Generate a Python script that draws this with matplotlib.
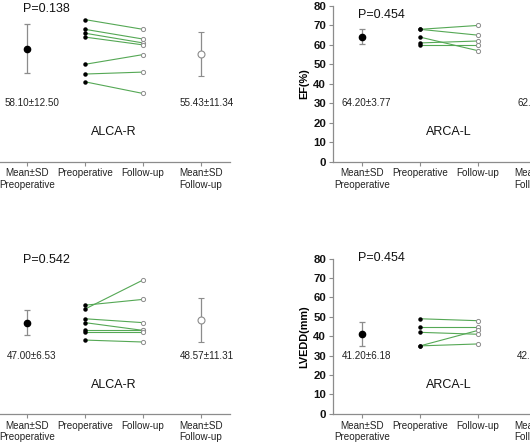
import matplotlib
matplotlib.use("Agg")
import matplotlib.pyplot as plt
import numpy as np

plt.rcParams['font.family'] = ['Liberation Sans', 'DejaVu Sans']

# ---- data ----
xcats = ["Mean±SD\nPreoperative", "Preoperative", "Follow-up", "Mean±SD\nFollow-up"]
yticks = [0, 10, 20, 30, 40, 50, 60, 70, 80]

# EF, ALCA-R
ef_alca_pre = [73, 68, 66, 64, 50, 45, 41]
ef_alca_fu = [68, 63, 61, 60, 55, 46, 35]
ef_alca_stats = [58.10, 12.50, 55.43, 11.34]
ef_alca_p = "P=0.138"

# EF, ARCA-L
ef_arca_pre = [68, 68, 64, 61, 60]
ef_arca_fu = [70, 65, 57, 62, 60]
ef_arca_stats = [64.20, 3.77, 62.80, 4.97]
ef_arca_p = "P=0.454"

# LVEDD, ALCA-R
lv_alca_pre = [56, 54, 49, 47, 43, 42, 38]
lv_alca_fu = [59, 69, 47, 43, 43, 42, 37]
lv_alca_stats = [47.00, 6.53, 48.57, 11.31]
lv_alca_p = "P=0.542"

# LVEDD, ARCA-L
lv_arca_pre = [49, 45, 42, 35, 35]
lv_arca_fu = [48, 45, 41, 43, 36]
lv_arca_stats = [41.20, 6.18, 42.60, 4.51]
lv_arca_p = "P=0.454"

panels = [
    (ef_alca_pre, ef_alca_fu, ef_alca_stats, ef_alca_p, "ALCA-R", "EF(%)"),
    (ef_arca_pre, ef_arca_fu, ef_arca_stats, ef_arca_p, "ARCA-L", "EF(%)"),
    (lv_alca_pre, lv_alca_fu, lv_alca_stats, lv_alca_p, "ALCA-R", "LVEDD(mm)"),
    (lv_arca_pre, lv_arca_fu, lv_arca_stats, lv_arca_p, "ARCA-L", "LVEDD(mm)"),
]

W, H = 530, 442
fig = plt.figure(figsize=(W / 100, H / 100), dpi=100)

def px_rect(x0, x1, ytop, ybot):
    return [x0 / W, 1 - ybot / H, (x1 - x0) / W, (ybot - ytop) / H]

rects = [
    px_rect(-2, 230, 6, 161.5),
    px_rect(333, 565, 6, 161.5),
    px_rect(-2, 230, 258.7, 413.7),
    px_rect(333, 565, 258.7, 413.7),
]
p_y = [78.6, 75.4, 79.2, 80.4]

grey = '#8c8c8c'
green = '#55a855'
xpos = [0.5, 1.5, 2.5, 3.5]

for i, (pre, fu, st, ptxt, grp, ylab) in enumerate(panels):
    ax = fig.add_axes(rects[i])
    ax.set_xlim(0, 4)
    ax.set_ylim(0, 80)
    for s in ['top', 'right']:
        ax.spines[s].set_visible(False)
    for s in ['left', 'bottom']:
        ax.spines[s].set_color(grey)
        ax.spines[s].set_linewidth(0.9)
    ax.set_xticks(xpos)
    ax.set_xticklabels(xcats, fontsize=7.1, linespacing=1.15)
    ax.set_yticks(yticks)
    ax.set_yticklabels([str(v) for v in yticks], fontsize=8.2, fontweight='bold')
    ax.tick_params(axis='both', colors=grey, labelcolor='#222222', length=3, width=0.8, pad=2)
    ax.tick_params(axis='y', labelcolor='#111111')
    ax.set_ylabel(ylab, fontsize=7.8, fontweight='bold', labelpad=3)

    for a, b in zip(pre, fu):
        ax.plot([xpos[1], xpos[2]], [a, b], color=green, lw=0.8, zorder=2)
    ax.plot([xpos[1]] * len(pre), pre, 'o', ms=2.2, color='black', zorder=3, clip_on=False)
    ax.plot([xpos[2]] * len(fu), fu, 'o', ms=3.0, mfc='white', mec=grey, mew=0.7, zorder=3)

    m1, s1, m2, s2 = st
    ax.errorbar([xpos[0]], [m1], yerr=[s1], fmt='o', ms=4.5, color='black',
                ecolor=grey, elinewidth=0.9, capsize=2.2, capthick=0.9, zorder=3)
    ax.errorbar([xpos[3]], [m2], yerr=[s2], fmt='o', ms=5, mfc='white', mec=grey, mew=0.8,
                ecolor=grey, elinewidth=0.9, capsize=2.2, capthick=0.9, zorder=3)

    ax.text(0.58, 30, f"{m1:.2f}±{s1:.2f}", ha='center', va='center', fontsize=7.1, color='#222222')
    ax.text(3.6, 30, f"{m2:.2f}±{s2:.2f}", ha='center', va='center', fontsize=7.1, color='#222222')
    ax.text(0.43, p_y[i], ptxt, ha='left', va='center', fontsize=9, color='#111111')
    ax.text(2.0, 15, grp, ha='center', va='center', fontsize=9, color='#111111')

fig.savefig("out.png", dpi=100)
